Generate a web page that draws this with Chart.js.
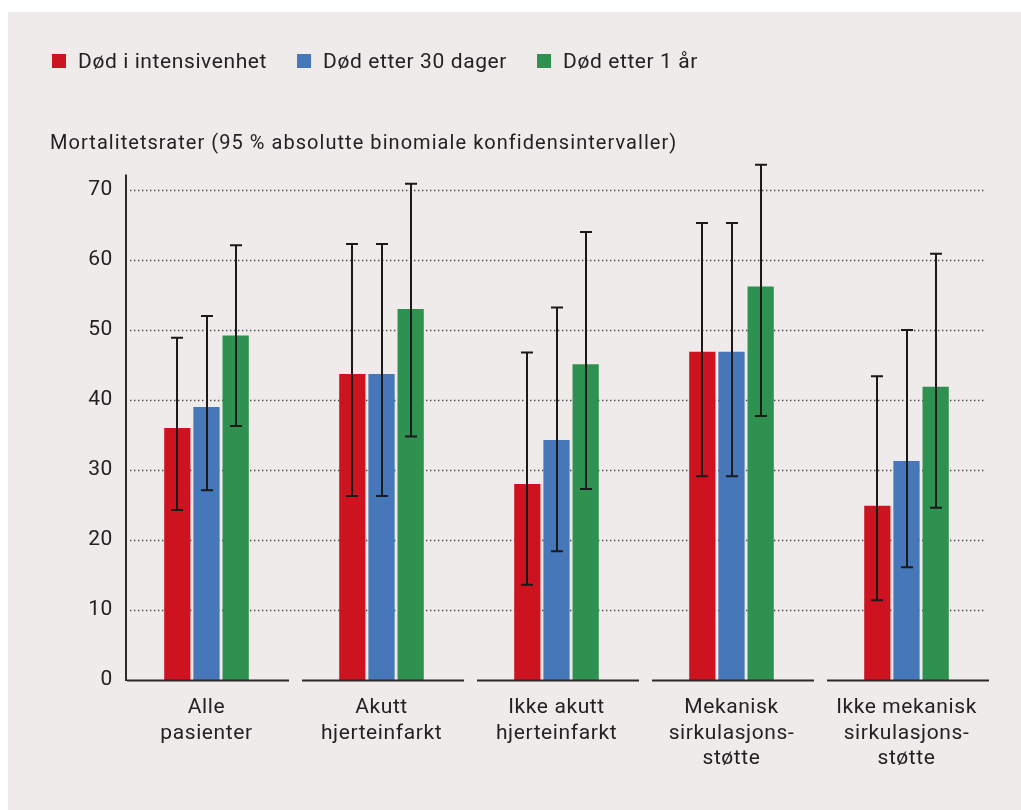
<!DOCTYPE html>
<html lang="no">
<head>
<meta charset="utf-8">
<title>Mortalitetsrater</title>
<script src="https://cdn.jsdelivr.net/npm/chart.js@4.4.1/dist/chart.umd.min.js"></script>
<style>
  html, body { margin: 0; padding: 0; background: #ffffff; }
  #wrap { width: 1021px; height: 810px; position: relative; }
</style>
</head>
<body>
<div id="wrap"><canvas id="chart" width="1021" height="810"></canvas></div>
<script>
// Patient groups (multi-line category labels)
const categories = [
  ['Alle', 'pasienter'],
  ['Akutt', 'hjerteinfarkt'],
  ['Ikke akutt', 'hjerteinfarkt'],
  ['Mekanisk', 'sirkulasjons-', 'støtte'],
  ['Ikke mekanisk', 'sirkulasjons-', 'støtte']
];
const seriesNames = ['Død i intensivenhet', 'Død etter 30 dager', 'Død etter 1 år'];

// Mortality (%) with 95 % confidence limits
const icuRate  = [36.0, 43.7, 28.0, 46.9, 24.9];
const icuLow   = [24.3, 26.3, 13.6, 29.1, 11.4];
const icuHigh  = [48.9, 62.3, 46.8, 65.3, 43.4];

const day30Rate = [39.0, 43.7, 34.3, 46.9, 31.3];
const day30Low  = [27.1, 26.3, 18.4, 29.1, 16.1];
const day30High = [52.0, 62.3, 53.2, 65.3, 50.0];

const year1Rate = [49.2, 53.0, 45.1, 56.2, 41.9];
const year1Low  = [36.3, 34.8, 27.3, 37.7, 24.6];
const year1High = [62.1, 70.9, 64.0, 73.6, 60.9];

const yTicks = [0, 10, 20, 30, 40, 50, 60, 70];
const yTitle = 'Mortalitetsrater (95 % absolutte binomiale konfidensintervaller)';

const seriesColors = ['#cc131f', '#4677b9', '#2f9150'];
const FONT = 'Roboto';
const TEXT = '#222222';

// Panel background
const panelPlugin = {
  id: 'panel',
  beforeDraw(chart) {
    const ctx = chart.ctx;
    ctx.save();
    ctx.fillStyle = '#ffffff';
    ctx.fillRect(0, 0, chart.width, chart.height);
    ctx.fillStyle = '#eeebea';
    ctx.fillRect(8, 12, chart.width - 8, chart.height - 12);
    ctx.restore();
    ctx.letterSpacing = '0.6px';
  }
};

// Dotted grid, y axis line and segmented baseline
const axesPlugin = {
  id: 'axesDecor',
  beforeDatasetsDraw(chart) {
    const ctx = chart.ctx;
    const y = chart.scales.y;
    const area = chart.chartArea;
    ctx.save();
    ctx.strokeStyle = '#4a4a4a';
    ctx.lineWidth = 1.3;
    ctx.setLineDash([1.4, 2.6]);
    yTicks.forEach(v => {
      if (v === 0) return;
      const py = Math.round(y.getPixelForValue(v)) + 0.5;
      ctx.beginPath();
      ctx.moveTo(area.left + 11, py);
      ctx.lineTo(area.right - 8, py);
      ctx.stroke();
    });
    ctx.setLineDash([]);
    ctx.strokeStyle = '#2a2a2a';
    ctx.lineWidth = 2;
    const base = y.getPixelForValue(0);
    ctx.beginPath();
    ctx.moveTo(area.left + 7, base + 1);
    ctx.lineTo(area.left + 7, y.getPixelForValue(72.2));
    ctx.stroke();
    ctx.restore();
  },
  afterDatasetsDraw(chart) {
    const ctx = chart.ctx;
    const y = chart.scales.y, x = chart.scales.x;
    const base = y.getPixelForValue(0);
    ctx.save();
    ctx.strokeStyle = '#2a2a2a';
    ctx.lineWidth = 2;
    categories.forEach((c, i) => {
      const px = x.getPixelForValue(i) + 1.5;
      ctx.beginPath();
      ctx.moveTo(px - 81, base + 0.5);
      ctx.lineTo(px + 81, base + 0.5);
      ctx.stroke();
    });
    ctx.restore();
  }
};

// Confidence-interval whiskers
const errorBarPlugin = {
  id: 'errorBars',
  afterDatasetsDraw(chart) {
    const ctx = chart.ctx;
    const y = chart.scales.y;
    ctx.save();
    ctx.strokeStyle = '#1a1a1a';
    ctx.lineWidth = 2;
    chart.data.datasets.forEach((ds, di) => {
      const meta = chart.getDatasetMeta(di);
      meta.data.forEach((bar, j) => {
        const bx = Math.round(bar.x);
        const lo = y.getPixelForValue(ds.errLow[j]);
        const hi = y.getPixelForValue(ds.errHigh[j]);
        ctx.beginPath();
        ctx.moveTo(bx, lo);
        ctx.lineTo(bx, hi);
        ctx.moveTo(bx - 6, hi);
        ctx.lineTo(bx + 6, hi);
        ctx.moveTo(bx - 6, lo);
        ctx.lineTo(bx + 6, lo);
        ctx.stroke();
      });
    });
    ctx.restore();
  }
};

// Legend row and axis heading
const headerPlugin = {
  id: 'header',
  afterDraw(chart) {
    const ctx = chart.ctx;
    ctx.save();
    ctx.letterSpacing = '0.6px';
    ctx.fillStyle = TEXT;
    ctx.textBaseline = 'alphabetic';
    ctx.textAlign = 'left';
    ctx.font = `21px ${FONT}`;
    let lx = 52;
    chart.data.datasets.forEach(ds => {
      ctx.fillStyle = ds.backgroundColor;
      ctx.fillRect(lx, 54, 14, 14);
      ctx.fillStyle = TEXT;
      ctx.fillText(ds.label, lx + 26, 68);
      lx += 26 + ctx.measureText(ds.label).width + 30;
    });
    ctx.letterSpacing = '1.05px';
    ctx.font = `20px ${FONT}`;
    ctx.fillText(yTitle, 50, 149);
    ctx.restore();
  }
};

const datasets = [
  { label: seriesNames[0], data: icuRate, errLow: icuLow, errHigh: icuHigh, backgroundColor: seriesColors[0] },
  { label: seriesNames[1], data: day30Rate, errLow: day30Low, errHigh: day30High, backgroundColor: seriesColors[1] },
  { label: seriesNames[2], data: year1Rate, errLow: year1Low, errHigh: year1High, backgroundColor: seriesColors[2] }
].map(d => Object.assign(d, { barPercentage: 0.9, categoryPercentage: 0.5, borderWidth: 0 }));

new Chart(document.getElementById('chart'), {
  type: 'bar',
  data: { labels: categories, datasets },
  options: {
    responsive: false,
    animation: false,
    layout: { padding: { left: 8, right: 27, top: 155, bottom: 0 } },
    plugins: {
      legend: { display: false },
      title: { display: false },
      tooltip: { enabled: false }
    },
    scales: {
      x: {
        grid: { display: false, drawTicks: false },
        border: { display: false },
        ticks: {
          font: { family: FONT, size: 21, lineHeight: 1.22 },
          color: TEXT,
          padding: 15,
          maxRotation: 0,
          autoSkip: false
        },
        afterFit(scale) { scale.height = 130; }
      },
      y: {
        min: 0,
        max: 75,
        grid: { display: false, drawTicks: false },
        border: { display: false },
        ticks: {
          font: { family: FONT, size: 21 },
          color: TEXT,
          padding: 6
        },
        afterBuildTicks(scale) { scale.ticks = yTicks.map(v => ({ value: v })); },
        afterFit(scale) { scale.width = 111; }
      }
    }
  },
  plugins: [panelPlugin, axesPlugin, errorBarPlugin, headerPlugin]
});
</script>
</body>
</html>
